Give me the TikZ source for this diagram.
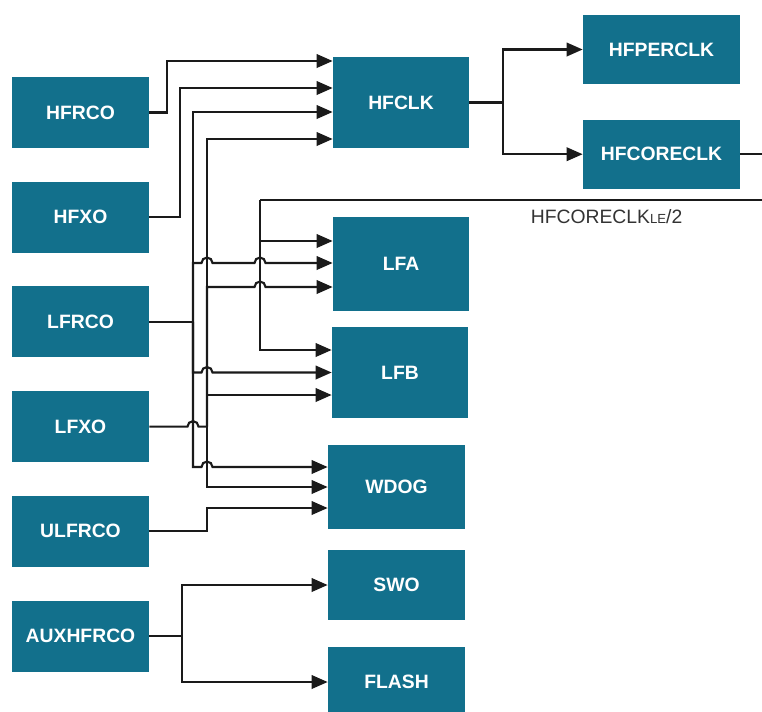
\documentclass[tikz,border=0pt]{standalone}
\usepackage{fontspec}
\setmainfont{Liberation Sans}
\usetikzlibrary{arrows.meta,positioning,calc}
\definecolor{clkteal}{HTML}{12708C}
\definecolor{clkline}{HTML}{1A1A1A}
\definecolor{clktext}{HTML}{333333}

\begin{document}
\begin{tikzpicture}[
  clkbox/.style={fill=clkteal, text=white, minimum height=1.42cm, minimum width=2.74cm,
                 align=center, font=\fontsize{11}{13}\selectfont\bfseries},
  arr/.style={-{Triangle[length=0.32cm,width=0.27cm]}, line width=1.2pt, clkline},
  wire/.style={line width=1.2pt, clkline},
  hop/.style={insert path={arc[start angle=180, end angle=0, radius=0.11cm]}},
  node distance=0.66cm
]
\useasboundingbox (0,0) rectangle (15.24,-14.22);

% oscillators
\node[clkbox] (hfrco) at (1.61,-2.25) {HFRCO};
\node[clkbox, below=of hfrco] (hfxo) {HFXO};
\node[clkbox, below=of hfxo] (lfrco) {LFRCO};
\node[clkbox, below=of lfrco] (lfxo) {LFXO};
\node[clkbox, below=of lfxo] (ulfrco) {ULFRCO};
\node[clkbox, below=of ulfrco] (auxhfrco) {AUXHFRCO};

% clock branches
\node[clkbox, minimum height=1.82cm, minimum width=2.72cm] (hfclk) at (8.02,-2.05) {HFCLK};
\node[clkbox, minimum height=1.88cm, minimum width=2.72cm] (lfa) at (8.02,-5.28) {LFA};
\node[clkbox, minimum height=1.82cm, minimum width=2.72cm] (lfb) at (8.0,-7.45) {LFB};
\node[clkbox, minimum height=1.68cm] (wdog) at (7.93,-9.74) {WDOG};
\node[clkbox, minimum height=1.4cm] (swo) at (7.93,-11.7) {SWO};
\node[clkbox, minimum height=1.4cm] (flash) at (7.93,-13.64) {FLASH};
\node[clkbox, minimum width=3.14cm, minimum height=1.38cm] (hfperclk) at (13.23,-0.99) {HFPERCLK};
\node[clkbox, minimum width=3.14cm, minimum height=1.38cm, below=0.7cm of hfperclk] (hfcoreclk) {HFCORECLK};

% bus columns and inputs
\coordinate (busA) at (3.34,0); \coordinate (busB) at (3.6,0);
\coordinate (busC) at (3.86,0); \coordinate (busD) at (4.14,0);
\coordinate (le) at (5.2,-4.0);
\coordinate (hfclk-in1) at ([yshift=0.83cm]hfclk.west);
\coordinate (hfclk-in2) at ([yshift=0.29cm]hfclk.west);
\coordinate (hfclk-in3) at ([yshift=-0.19cm]hfclk.west);
\coordinate (hfclk-in4) at ([yshift=-0.73cm]hfclk.west);
\coordinate (lfa-in1) at ([yshift=0.46cm]lfa.west);
\coordinate (lfa-in2) at ([yshift=0.02cm]lfa.west);
\coordinate (lfa-in3) at ([yshift=-0.46cm]lfa.west);
\coordinate (lfb-in1) at ([yshift=0.45cm]lfb.west);
\coordinate (lfb-in2) at (lfb.west);
\coordinate (lfb-in3) at ([yshift=-0.45cm]lfb.west);
\coordinate (wdog-in1) at ([yshift=0.4cm]wdog.west);
\coordinate (wdog-in2) at (wdog.west);
\coordinate (wdog-in3) at ([yshift=-0.42cm]wdog.west);

% HF sources
\draw[arr] (hfrco.east) -- (busA |- hfrco.east) |- (hfclk-in1);
\draw[arr] (hfxo.east) -- (busB |- hfxo.east) |- (hfclk-in2);

% LFRCO
\draw[wire] (lfrco.east) -- (busC |- lfrco.east);
\draw[arr] (busC |- lfrco.east) |- (hfclk-in3);
\draw[arr] (busC |- lfrco.east) |- ($(busD |- lfa-in2)+(-0.11,0)$) [hop]
  -- ($(le |- lfa-in2)+(-0.11,0)$) [hop] -- (lfa-in2);
\draw[arr] (busC |- lfrco.east) |- ($(busD |- lfb-in2)+(-0.11,0)$) [hop] -- (lfb-in2);
\draw[arr] (busC |- lfrco.east) |- ($(busD |- wdog-in1)+(-0.11,0)$) [hop] -- (wdog-in1);

% LFXO
\draw[wire] (lfxo.east) -- ($(busC |- lfxo.east)+(-0.11,0)$) [hop] -- (busD |- lfxo.east);
\draw[arr] (busD |- lfxo.east) |- (hfclk-in4);
\draw[arr] (busD |- lfxo.east) |- ($(le |- lfa-in3)+(-0.11,0)$) [hop] -- (lfa-in3);
\draw[arr] (busD |- lfxo.east) |- (lfb-in3);
\draw[arr] (busD |- lfxo.east) |- (wdog-in2);

% ULFRCO
\draw[arr] (ulfrco.east) -- (busD |- ulfrco.east) |- (wdog-in3);

% HFCLK split
\draw[arr] (hfclk.east) -- ++(0.68,0) |- (hfperclk.west);
\draw[arr] (hfclk.east) -- ++(0.68,0) |- (hfcoreclk.west);

% HFCORECLK_LE/2 feedback
\draw[wire] (hfcoreclk.east) -- ++(0.8,0) |- node[pos=0.667, below=0.05cm, font=\fontsize{11}{13}\selectfont, text=clktext]
  {HFCORECLK{\fontsize{7.5}{8}\selectfont LE}/2} (le);
\draw[arr] (le) |- (lfa-in1);
\draw[arr] (le) |- (lfb-in1);

% AUXHFRCO
\draw[arr] (auxhfrco.east) -- ++(0.66,0) |- (swo.west);
\draw[arr] (auxhfrco.east) -- ++(0.66,0) |- (flash.west);
\end{tikzpicture}
\end{document}
